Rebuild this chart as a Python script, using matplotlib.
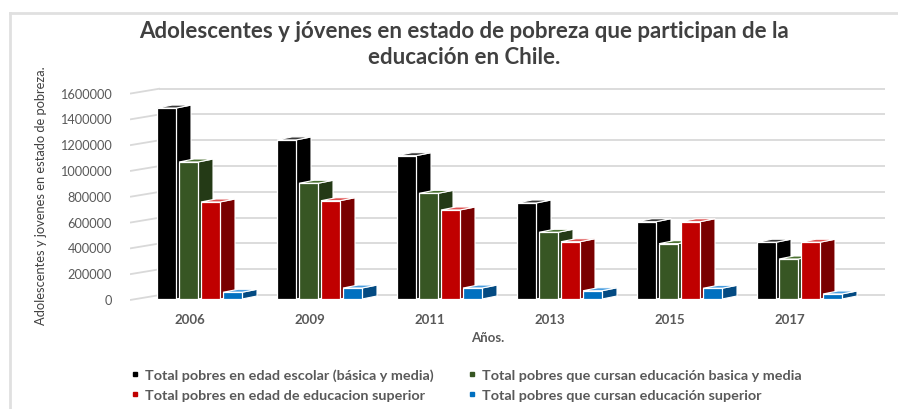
import matplotlib
matplotlib.use("Agg")
import matplotlib.pyplot as plt
from matplotlib.lines import Line2D
import numpy as np

# ---------------- data ----------------
years = ["2006", "2009", "2011", "2013", "2015", "2017"]
edad_escolar = [1480000, 1233000, 1111000, 744000, 599000, 440000]
cursan_basica = [1062000, 897000, 819000, 517000, 429000, 310000]
edad_superior = [752000, 762000, 690000, 444000, 599000, 440000]
cursan_superior = [52000, 85000, 85000, 64000, 83000, 39000]
series_names = [
    "Total pobres en edad escolar (básica y media)",
    "Total pobres que cursan educación basica y media",
    "Total pobres en edad de educacion superior",
    "Total pobres que cursan educación superior",
]
y_ticks = [0, 200000, 400000, 600000, 800000, 1000000, 1200000, 1400000, 1600000]

front_cols = ["#000000", "#375623", "#c00000", "#0070c0"]
side_cols = ["#000000", "#243a16", "#7a0000", "#034a82"]
top_cols = ["#3a3a3a", "#4c7233", "#e05050", "#4a9ee0"]

W, H = 898, 410
fig = plt.figure(figsize=(W / 100, H / 100), dpi=100)
fig.patch.set_facecolor("white")

# pixel layout
ax_l, ax_r, ax_t, ax_b = 130, 885, 80, 302
ax = fig.add_axes([ax_l / W, (H - ax_b) / H, (ax_r - ax_l) / W, (ax_b - ax_t) / H])
pxx = 120.0          # px per category
pxy = 129.0 / 1e6    # px per unit value
x0_px = 190          # pixel of first category tick
ax.set_xlim((ax_l - x0_px) / pxx, (ax_r - x0_px) / pxx)
ax.set_ylim(-(ax_b - 300) / pxy, (300 - ax_t) / pxy)
for s in ax.spines.values():
    s.set_visible(False)
ax.set_facecolor("none")

# 3D-ish geometry (data units)
bw = 19 / pxx
pitch = 22 / pxx
dx = 15 / pxx
dy = 3 / pxy
start = -33 / pxx

# gridlines on back wall + left wall slant
wall_x = (160 - x0_px) / pxx
back_dy = 4 / pxy
xl = ax.get_xlim()
for g in y_ticks:
    ax.plot([xl[0], wall_x], [g - 1 / pxy, g + back_dy], color="#d9d9d9", lw=1.3, zorder=0,
            solid_capstyle="butt")
    ax.plot([wall_x, xl[1]], [g + back_dy, g + back_dy], color="#d9d9d9", lw=1.3, zorder=0)

all_series = [edad_escolar, cursan_basica, edad_superior, cursan_superior]
xs = np.arange(len(years))
z = 2
for j, vals in enumerate(all_series):
    left = xs + start + j * pitch
    for i, v in enumerate(vals):
        L = left[i]
        R = L + bw
        # side face
        ax.fill([R, R + dx, R + dx, R], [0, dy, v + dy, v], color=side_cols[j],
                ec="white", lw=0.8, zorder=z + j * 0.1)
        # top face
        ax.fill([L, R, R + dx, L + dx], [v, v, v + dy, v + dy], color=top_cols[j],
                ec="white", lw=0.8, zorder=z + j * 0.1)
    ax.bar(left, vals, width=bw, align="edge", color=front_cols[j], edgecolor="white",
           linewidth=0.9, zorder=z + j * 0.1 + 0.05)

txt_col = "#595959"
ax.set_yticks(y_ticks)
ax.set_yticklabels([str(t) for t in y_ticks], fontsize=9.2, color=txt_col, family="Lato")
ax.set_xticks(xs)
ax.set_xticklabels(years, fontsize=9.5, color=txt_col, family="Lato", fontweight="bold")
ax.tick_params(axis="y", length=0, pad=13)
ax.tick_params(axis="x", length=0, pad=9)

# title
fig.text(464 / W, 1 - 32 / H, "Adolescentes y jóvenes en estado de pobreza que participan de la",
         ha="center", va="center", fontsize=16, fontweight="bold", color="#404040", family="Lato")
fig.text(464 / W, 1 - 57 / H, "educación en Chile.",
         ha="center", va="center", fontsize=16, fontweight="bold", color="#404040", family="Lato")

# axis titles
fig.text(488 / W, 1 - 338 / H, "Años.", ha="center", va="center", fontsize=9.5,
         fontweight="bold", color=txt_col, family="Lato")
fig.text(41 / W, 1 - 196 / H, "Adolescentes y jovenes en estado de pobreza.", rotation=90,
         ha="center", va="center", fontsize=9.3, color="#404040", family="Lato")

# legend (row-wise order)
handles = [Line2D([], [], ls="none", marker="s", markersize=3.5, color=c) for c in front_cols]
order = [0, 2, 1, 3]
leg = fig.legend([handles[k] for k in order], [series_names[k] for k in order], ncol=2,
                 loc="center left", bbox_to_anchor=(131 / W, 1 - 386 / H), frameon=False,
                 prop={"family": "Lato", "size": 10.4, "weight": "bold"},
                 handlelength=0.6, handletextpad=0.4, columnspacing=2.3, labelspacing=0.55,
                 borderaxespad=0, borderpad=0)
for t in leg.get_texts():
    t.set_color(txt_col)

# chart border
fig.add_artist(Line2D([10 / W, 1], [1 - 14 / H, 1 - 14 / H], color="#e0e0e0", lw=2,
                      transform=fig.transFigure))
fig.add_artist(Line2D([10 / W, 10 / W], [0, 1 - 14 / H], color="#e0e0e0", lw=2,
                      transform=fig.transFigure))

fig.savefig("out.png", dpi=100, facecolor="white")
